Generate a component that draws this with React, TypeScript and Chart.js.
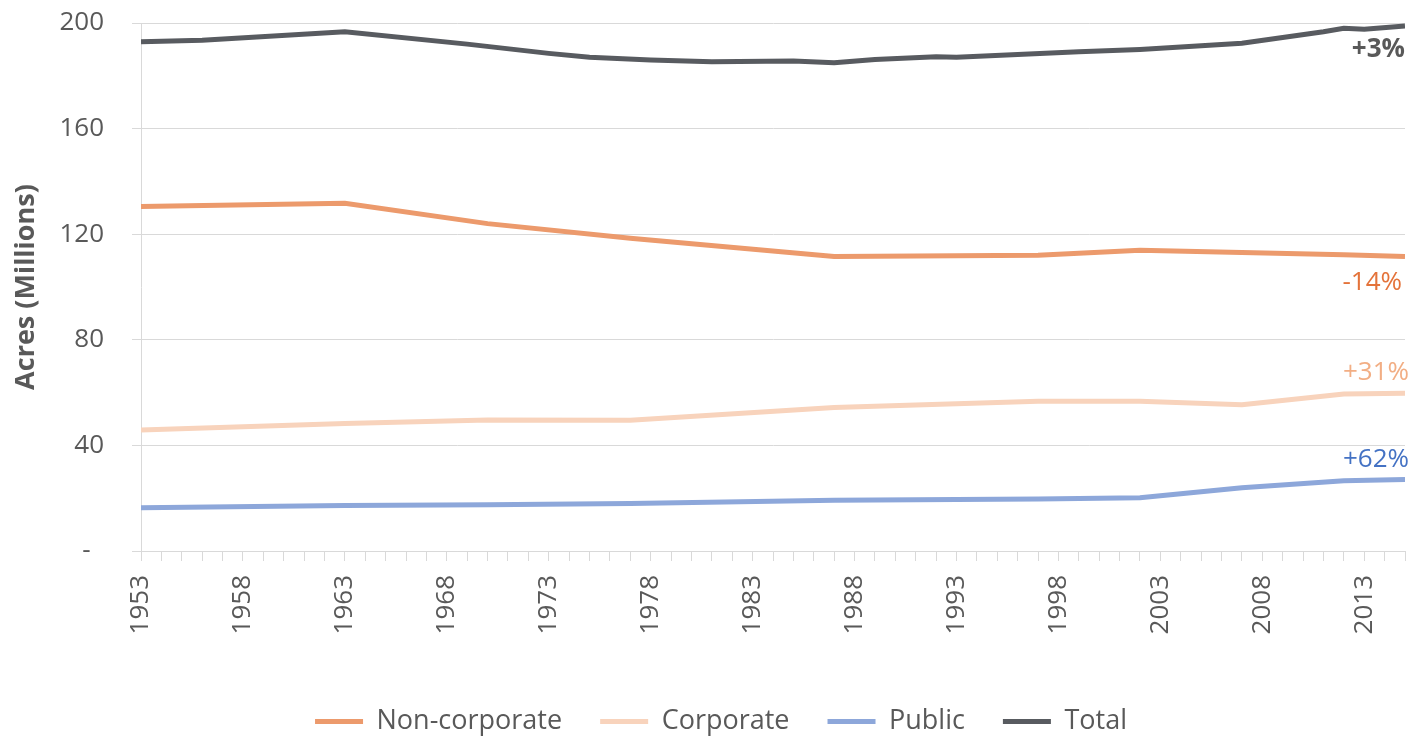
import React, { useEffect, useRef } from "react";
import { Chart, registerables } from "chart.js";

Chart.register(...registerables);

const surveyYears = [1953, 1963, 1970, 1977, 1987, 1997, 2002, 2007, 2012, 2015];
const nonCorporate = [130.5, 131.7, 124.0, 118.5, 111.6, 112.0, 113.9, 113.1, 112.2, 111.6];
const corporate = [45.8, 48.3, 49.6, 49.5, 54.4, 56.7, 56.7, 55.4, 59.5, 59.8];
const publicLand = [16.4, 17.2, 17.5, 18.0, 19.2, 19.7, 20.2, 24.0, 26.6, 27.1];

const totalYears = [1953, 1956, 1963, 1969, 1973, 1975, 1978, 1981, 1985, 1987, 1989, 1992, 1993, 1999, 2002, 2007, 2011, 2012, 2013, 2015];
const totalValues = [192.9, 193.5, 196.7, 192.0, 188.5, 187.0, 186.0, 185.3, 185.6, 184.9, 186.2, 187.2, 187.0, 189.1, 190.0, 192.3, 196.7, 198.0, 197.6, 198.9];

const seriesNames = ["Non-corporate", "Corporate", "Public", "Total"];
const changeLabels = ["-14%", "+31%", "+62%", "+3%"];

const yTicks = [0, 40, 80, 120, 160, 200];
const xFirstYear = 1953;
const xLastYear = 2015;

const FONT = "'Open Sans', 'Noto Sans', sans-serif";

function toPoints(xs: number[], ys: number[]) {
  return xs.map((x, i) => ({ x, y: ys[i] }));
}

const endLabelPlugin = {
  id: "endLabels",
  afterDatasetsDraw(chart: any) {
    const { ctx } = chart;
    const xScale = chart.scales.x;
    const yScale = chart.scales.y;
    const specs = [
      { ds: 0, text: changeLabels[0], color: "#E4733A", dy: 26, bold: false, dx: -3 },
      { ds: 1, text: changeLabels[1], color: "#F2AE84", dy: -21, bold: false, dx: 4 },
      { ds: 2, text: changeLabels[2], color: "#4472C4", dy: -20, bold: false, dx: 4 },
      { ds: 3, text: changeLabels[3], color: "#595959", dy: 24, bold: true, dx: 0 },
    ];
    ctx.save();
    ctx.textAlign = "right";
    ctx.textBaseline = "middle";
    specs.forEach((s) => {
      const data = chart.data.datasets[s.ds].data;
      const last = data[data.length - 1];
      const x = xScale.getPixelForValue(last.x) + s.dx;
      const y = yScale.getPixelForValue(last.y) + s.dy;
      ctx.font = `${s.bold ? "bold " : ""}26px ${FONT}`;
      ctx.fillStyle = s.color;
      ctx.fillText(s.text, x, y);
    });
    ctx.restore();
  },
};

export default function App() {
  const canvasRef = useRef<HTMLCanvasElement | null>(null);

  useEffect(() => {
    document.body.style.margin = "0";
    const canvas = canvasRef.current;
    if (!canvas) return;
    const common = {
      borderWidth: 5,
      pointRadius: 0,
      pointHoverRadius: 0,
      pointStyle: "line" as const,
      tension: 0,
      fill: false,
    };
    const chart = new Chart(canvas, {
      type: "line",
      data: {
        datasets: [
          { ...common, label: seriesNames[0], data: toPoints(surveyYears, nonCorporate), borderColor: "#EC9A6C", backgroundColor: "#EC9A6C" },
          { ...common, label: seriesNames[1], data: toPoints(surveyYears, corporate), borderColor: "#F8D3BC", backgroundColor: "#F8D3BC" },
          { ...common, label: seriesNames[2], data: toPoints(surveyYears, publicLand), borderColor: "#8DA7DA", backgroundColor: "#8DA7DA" },
          { ...common, label: seriesNames[3], data: toPoints(totalYears, totalValues), borderColor: "#585B60", backgroundColor: "#585B60" },
        ],
      },
      options: {
        animation: false,
        responsive: true,
        maintainAspectRatio: false,
        layout: { padding: { top: 23, right: 0, left: 16, bottom: -6 } },
        plugins: {
          tooltip: { enabled: false },
          legend: {
            position: "bottom",
            labels: {
              usePointStyle: true,
              pointStyleWidth: 48,
              boxHeight: 5,
              padding: 38,
              color: "#595959",
              font: { family: FONT, size: 27 },
            },
          },
        },
        scales: {
          x: {
            type: "linear",
            min: xFirstYear,
            max: xLastYear,
            afterBuildTicks: (scale: any) => {
              const t = [];
              for (let v = xFirstYear; v <= xLastYear; v++) t.push({ value: v });
              scale.ticks = t;
            },
            afterFit: (scale: any) => {
              scale.height = 119;
              scale.paddingLeft = 0;
              scale.paddingRight = 21;
            },
            ticks: {
              autoSkip: false,
              maxRotation: 90,
              minRotation: 90,
              padding: 14,
              color: "#595959",
              font: { family: FONT, size: 26 },
              callback: (v: any) => ((Number(v) - xFirstYear) % 5 === 0 ? String(v) : ""),
            },
            grid: {
              drawOnChartArea: false,
              drawTicks: true,
              tickLength: 10,
              color: "#D9D9D9",
            },
            border: { display: true, color: "#D9D9D9" },
          },
          y: {
            min: 0,
            max: 200,
            afterBuildTicks: (scale: any) => {
              scale.ticks = yTicks.map((v) => ({ value: v }));
            },
            afterFit: (scale: any) => {
              scale.width = 125;
              scale.paddingTop = 0;
              scale.paddingBottom = 0;
            },
            ticks: {
              padding: 28,
              color: "#595959",
              font: { family: FONT, size: 26 },
              callback: (v: any) => (Number(v) === 0 ? "-  " : String(v)),
            },
            grid: {
              color: "#D9D9D9",
              tickLength: 9,
              lineWidth: 1,
            },
            border: { display: true, color: "#D9D9D9" },
            title: {
              display: true,
              text: "Acres (Millions)",
              color: "#595959",
              font: { family: FONT, size: 27, weight: "bold" },
              padding: { top: -6, bottom: 0 },
            },
          },
        },
      },
      plugins: [endLabelPlugin],
    });
    return () => chart.destroy();
  }, []);

  return (
    <div style={{ position: "absolute", left: 0, top: 0, width: 1426, height: 739 }}>
      <canvas ref={canvasRef} />
    </div>
  );
}
